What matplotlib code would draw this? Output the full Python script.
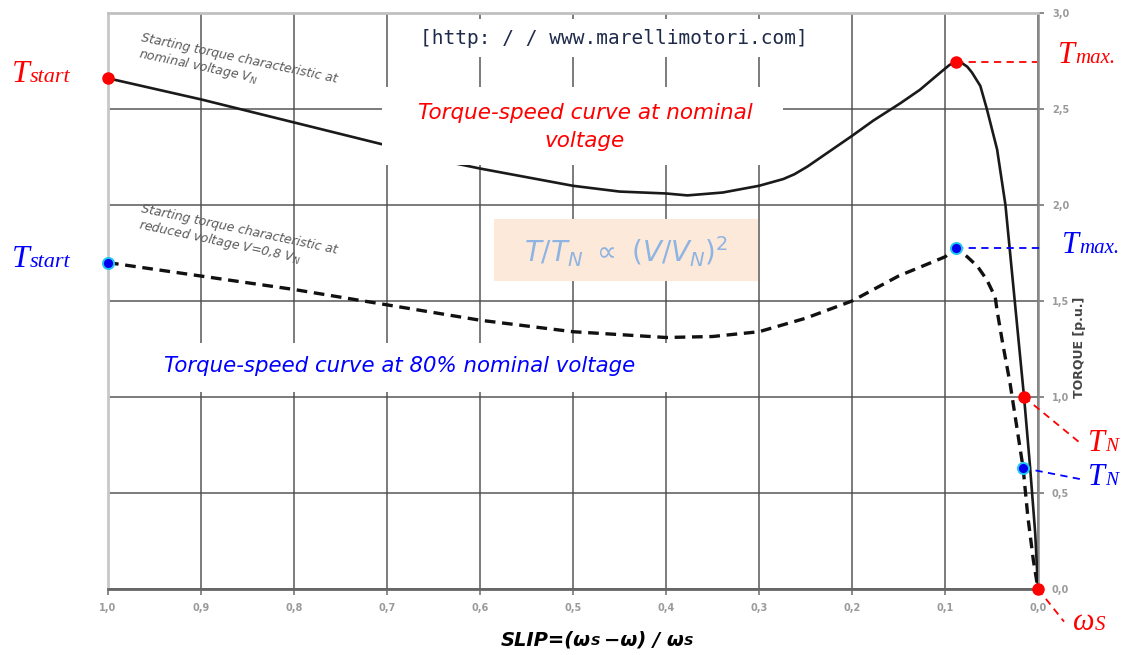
import matplotlib
matplotlib.use("Agg")
import matplotlib.pyplot as plt
from matplotlib.patches import Rectangle

# ---------------- data ----------------
slip_nominal = [1.0, 0.9, 0.8, 0.7, 0.65, 0.6, 0.5, 0.45, 0.4, 0.377, 0.339, 0.3, 0.274, 0.262,
                0.248, 0.224, 0.2, 0.177, 0.148, 0.127, 0.105, 0.095, 0.088, 0.082, 0.076,
                0.071, 0.062, 0.055, 0.044, 0.035, 0.025, 0.015, 0.0086, 0.003, 0.0]
torque_nominal = [2.66, 2.55, 2.43, 2.31, 2.24, 2.19, 2.10, 2.07, 2.06, 2.05, 2.065, 2.10, 2.135, 2.16,
                  2.20, 2.28, 2.36, 2.44, 2.53, 2.60, 2.69, 2.73, 2.745, 2.74, 2.72,
                  2.69, 2.62, 2.50, 2.29, 2.00, 1.50, 1.00, 0.64, 0.29, 0.0]

slip_reduced = [1.0, 0.9, 0.8, 0.7, 0.6, 0.5, 0.4, 0.35, 0.3, 0.25, 0.2, 0.15, 0.1,
                0.088, 0.076, 0.065, 0.055, 0.046, 0.044, 0.038, 0.030, 0.023, 0.016, 0.011,
                0.005, 0.0]
torque_reduced = [1.70, 1.63, 1.56, 1.48, 1.40, 1.34, 1.31, 1.315, 1.34, 1.41, 1.50, 1.63, 1.73,
                  1.775, 1.73, 1.68, 1.61, 1.52, 1.45, 1.28, 1.07, 0.85, 0.63, 0.38,
                  0.15, 0.0]

red_pts_slip = [1.0, 0.088, 0.015, 0.0]
red_pts_torque = [2.66, 2.745, 1.00, 0.0]
blue_pts_slip = [1.0, 0.088, 0.016]
blue_pts_torque = [1.70, 1.775, 0.63]

x_ticks = [1.0, 0.9, 0.8, 0.7, 0.6, 0.5, 0.4, 0.3, 0.2, 0.1, 0.0]
x_ticklabels = ["1,0", "0,9", "0,8", "0,7", "0,6", "0,5", "0,4", "0,3", "0,2", "0,1", "0,0"]
y_ticks = [0.0, 0.5, 1.0, 1.5, 2.0, 2.5, 3.0]
y_ticklabels = ["0,0", "0,5", "1,0", "1,5", "2,0", "2,5", "3,0"]

# ---------------- figure ----------------
W, H = 1126, 655
fig = plt.figure(figsize=(W / 100, H / 100), dpi=100)
fig.patch.set_facecolor("white")
ax = fig.add_axes([108 / W, 1 - 589 / H, 930 / W, 576 / H])
ax.set_xlim(1.0, 0.0)
ax.set_ylim(0.0, 3.0)

ax.set_xticks(x_ticks)
ax.set_xticklabels(x_ticklabels)
ax.set_yticks(y_ticks)
ax.set_yticklabels(y_ticklabels)
ax.yaxis.tick_right()
ax.tick_params(axis="both", direction="out", length=4, width=1.2, color="#777777",
               labelsize=7, labelcolor="#9a9a9a", pad=6)
for lab in ax.get_xticklabels() + ax.get_yticklabels():
    lab.set_fontweight("bold")

ax.grid(True, color="#4a4a4a", lw=1.2, alpha=0.85, zorder=0)
ax.set_axisbelow(True)
ax.spines["left"].set_color("#c8c8c8")
ax.spines["left"].set_linewidth(2.0)
ax.spines["top"].set_color("#c0c0c0")
ax.spines["top"].set_linewidth(2.0)
ax.spines["bottom"].set_color("#666666")
ax.spines["bottom"].set_linewidth(2.0)
ax.spines["right"].set_color("#888888")
ax.spines["right"].set_linewidth(1.8)

# curves
ax.plot(slip_nominal, torque_nominal, color="#1a1a1a", lw=1.9, zorder=3,
        solid_joinstyle="round")
ax.plot(slip_reduced, torque_reduced, color="#111111", lw=2.4, zorder=3,
        dashes=(3.2, 2.0))

# leader lines
lead = dict(lw=1.3, dashes=(4, 3), clip_on=False, zorder=4)
ax.plot([red_pts_slip[1], 0.001], [red_pts_torque[1]] * 2, color="red", **lead)
ax.plot([blue_pts_slip[1], -0.002], [blue_pts_torque[1]] * 2, color="blue", **lead)
ax.plot([red_pts_slip[2], -0.048], [red_pts_torque[2], 0.75], color="red", **lead)
ax.plot([blue_pts_slip[2], -0.048], [blue_pts_torque[2], 0.57], color="blue", **lead)
ax.plot([red_pts_slip[3], -0.028], [red_pts_torque[3], -0.17], color="red", **lead)

# markers
ax.plot(red_pts_slip, red_pts_torque, ls="none", marker="o", ms=8, color="#ff0000",
        mec="#ff0000", clip_on=False, zorder=5)
ax.plot(blue_pts_slip, blue_pts_torque, ls="none", marker="o", ms=8, color="#0000ee",
        mec="#22c8f0", mew=1.4, clip_on=False, zorder=5)


# ---------------- helpers ----------------
def box(x0, y0, x1, y1, color):
    fig.patches.append(Rectangle((x0 / W, 1 - y1 / H), (x1 - x0) / W, (y1 - y0) / H,
                                 transform=fig.transFigure, facecolor=color,
                                 edgecolor="none", zorder=1))


renderer = fig.canvas.get_renderer()


def seq_text(x, y, pieces, color, family, style="italic", weight="normal", ha="left"):
    items = []
    cur = 0.0
    for piece in pieces:
        s, size = piece[0], piece[1]
        gap = piece[2] if len(piece) > 2 else 0
        t = fig.text(0, 1 - y / H, s, fontsize=size, color=color, family=family,
                     style=style, weight=weight, va="baseline", ha="left", zorder=3)
        w = t.get_window_extent(renderer=renderer).width
        items.append((t, cur))
        cur += w + gap
    x0 = x - cur / 2 if ha == "center" else x
    for t, off in items:
        t.set_x((x0 + off) / W)


# white / coloured boxes
box(412, 19, 815, 57, "white")
box(382, 87, 783, 165, "white")
box(494, 219, 758, 281, "#fde9d9")
box(112, 343, 700, 392, "white")

# URL
fig.text(614 / W, 1 - 38 / H, "[http: / / www.marellimotori.com]", family="DejaVu Sans Mono",
         fontsize=14, color="#1f2b4a", ha="center", va="center", zorder=3)

# annotations in boxes
fig.text(585 / W, 1 - 127 / H, "Torque-speed curve at nominal\nvoltage", color="red",
         fontsize=15.5, style="italic", family="DejaVu Sans", ha="center", va="center",
         linespacing=1.5, zorder=3)
fig.text(400 / W, 1 - 366 / H, "Torque-speed curve at 80% nominal voltage", color="blue",
         fontsize=15.3, style="italic", family="DejaVu Sans", ha="center", va="center",
         zorder=3)
fig.text(626 / W, 1 - 252 / H, r"$T/T_{N}\ \propto\ (V/V_{N})^{2}$", color="#8db4e2",
         fontsize=20, ha="center", va="center", zorder=3)

# rotated gray notes
note = dict(rotation=-12, rotation_mode="anchor", ha="left", va="top", fontsize=9,
            color="#5a5a5a", style="italic", family="DejaVu Sans", linespacing=1.1, zorder=3)
fig.text(143 / W, 1 - 31 / H,
         "Starting torque characteristic at\nnominal voltage V$_\\mathregular{N}$", **note)
fig.text(143 / W, 1 - 202 / H,
         "Starting torque characteristic at\nreduced voltage V=0,8 V$_\\mathregular{N}$", **note)

# point labels (serif italic)
serif = "Liberation Serif"
seq_text(12, 82, [("T", 23), ("start", 16)], "red", serif)
seq_text(12, 267, [("T", 23), ("start", 16)], "blue", serif)
seq_text(1058, 63, [("T", 22), ("max.", 15)], "red", serif)
seq_text(1062, 253, [("T", 22), ("max.", 15)], "blue", serif)
seq_text(1088, 451, [("T", 22), ("N", 14)], "red", serif)
seq_text(1088, 485, [("T", 22), ("N", 14)], "blue", serif)
seq_text(1073, 630, [("ω", 22), ("S", 15)], "red", serif)

# axis labels
seq_text(597, 645, [("SLIP=(ω", 14), ("S", 9.5, 4), ("−ω) / ω", 14), ("S", 9.5)], "black",
         "DejaVu Sans", style="italic", weight="bold", ha="center")
fig.text(1080 / W, 1 - 347 / H, "TORQUE [p.u.]", rotation=90, fontsize=9, weight="bold",
         color="#444444", ha="center", va="center", zorder=3)

fig.savefig("out.png", dpi=100)
